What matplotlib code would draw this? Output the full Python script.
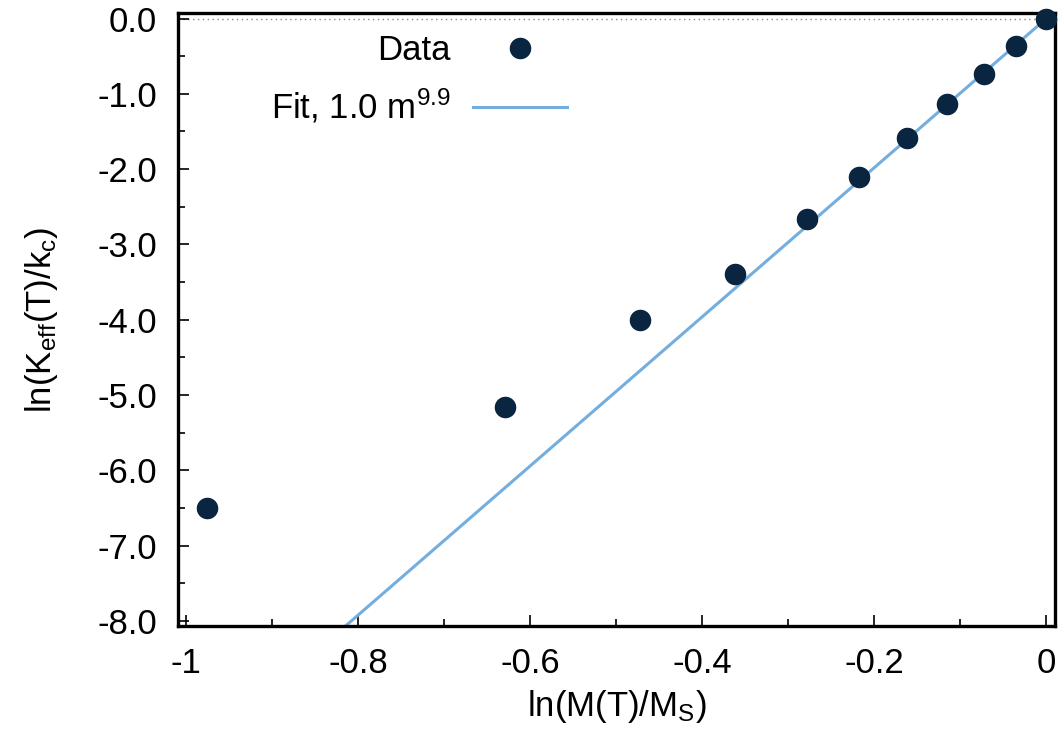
import matplotlib

matplotlib.use("Agg")

import matplotlib.pyplot as plt
import numpy as np
from matplotlib.ticker import MultipleLocator, FormatStrFormatter, FuncFormatter

# data
ln_m = [-0.976, -0.630, -0.473, -0.362, -0.278, -0.218, -0.162, -0.115, -0.073, -0.035, 0.0]
ln_k = [-6.50, -5.16, -4.01, -3.39, -2.66, -2.10, -1.59, -1.14, -0.74, -0.36, 0.0]

# fit K = A m^B  ->  ln K = ln A + B ln m
FIT_A = 1.0
FIT_B = 9.9
fit_x = np.array([-1.0, 0.0])

MARKER_COLOR = "#0a2540"
FIT_COLOR = "#74aede"
FONT_SIZE = 25

plt.rcParams.update(
    {
        "font.family": ["Liberation Sans", "DejaVu Sans"],
        "mathtext.fontset": "custom",
        "mathtext.rm": "Liberation Sans",
        "mathtext.it": "Liberation Sans:italic",
        "font.size": FONT_SIZE,
        "axes.linewidth": 2.4,
    }
)


def x_label(value, _pos):
    if abs(value) < 1e-9:
        return "0"
    if abs(value + 1.0) < 1e-9:
        return "-1"
    return f"{value:.1f}"


fig = plt.figure(figsize=(10.64, 7.35), dpi=100)
ax = fig.add_axes([0.167, 0.148, 0.8245, 0.834])

ax.axhline(0.0, color="#888888", linewidth=1.0, linestyle=(0, (1, 2.5)), zorder=1)

fit_y = np.log(FIT_A) + FIT_B * fit_x
ax.plot(fit_x, fit_y, color=FIT_COLOR, linewidth=2.2, zorder=2,
        label="Fit, 1.0 m$^{9.9}$")
ax.plot(ln_m, ln_k, linestyle="none", marker="o", markersize=14.5,
        color=MARKER_COLOR, zorder=3, label="Data", clip_on=False)

ax.set_xlim(-1.01, 0.01)
ax.set_ylim(-8.07, 0.07)

ax.xaxis.set_major_locator(MultipleLocator(0.2))
ax.xaxis.set_minor_locator(MultipleLocator(0.1))
ax.xaxis.set_major_formatter(FuncFormatter(x_label))
ax.yaxis.set_major_locator(MultipleLocator(1.0))
ax.yaxis.set_minor_locator(MultipleLocator(0.5))
ax.yaxis.set_major_formatter(FormatStrFormatter("%.1f"))

ax.tick_params(axis="y", which="major", direction="in", length=8, width=1.2,
               top=False, right=False, labelsize=FONT_SIZE, pad=15)
ax.tick_params(axis="x", which="major", direction="in", length=8, width=1.2,
               top=False, right=False, labelsize=FONT_SIZE, pad=15)
ax.tick_params(which="minor", direction="in", length=5, width=1.2, top=False, right=False)

ax.set_xlabel("ln(M(T)/M$_{\\rm S}$)", fontsize=FONT_SIZE, labelpad=6)
ax.set_ylabel("ln(K$_{\\rm eff}$(T)/k$_{\\rm c}$)", fontsize=FONT_SIZE, labelpad=27)

handles, labels = ax.get_legend_handles_labels()
ax.legend(handles[::-1], labels[::-1], loc="upper right", bbox_to_anchor=(0.444, 0.966),
          markerfirst=False, frameon=False, fontsize=FONT_SIZE, handlelength=2.7,
          handletextpad=0.66, labelspacing=0.58, borderpad=0, borderaxespad=0)

fig.savefig("out.png", dpi=100, facecolor="white")
